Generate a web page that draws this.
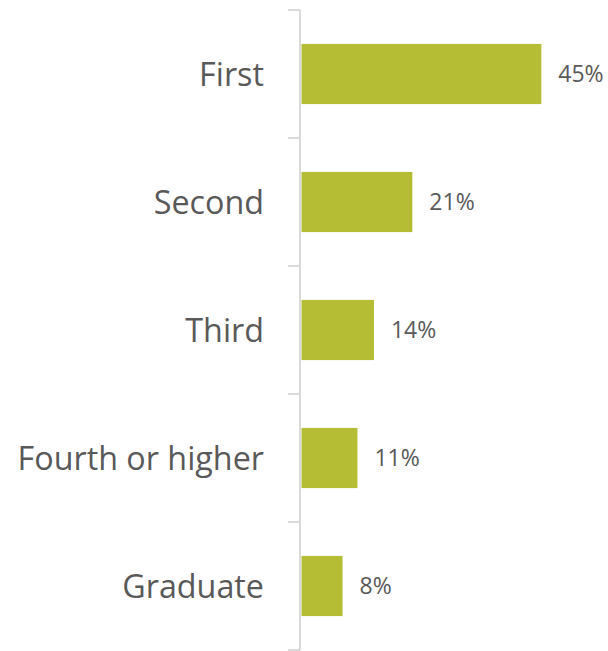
<!DOCTYPE html>
<html lang="en">
  <head>
    <meta charset="UTF-8" />
    <title>Year of study</title>
    <script src="https://d3js.org/d3.v7.min.js"></script>
    <style>
      body {
        margin: 0;
        background: #fff;
        font-family: "Open Sans", sans-serif;
      }
    </style>
  </head>
  <body>
    <div id="chart"></div>
    <script>
      const categories = ["First", "Second", "Third", "Fourth or higher", "Graduate"];
      const values = [45, 20.8, 13.6, 10.5, 7.7];
      const valueLabels = ["45%", "21%", "14%", "11%", "8%"];

      const width = 608;
      const height = 651;
      const margin = { top: 10, right: 0, bottom: 1, left: 300 };

      const svg = d3
        .select("#chart")
        .append("svg")
        .attr("width", width)
        .attr("height", height);

      const y = d3
        .scaleBand()
        .domain(categories)
        .range([margin.top, height - margin.bottom])
        .paddingInner(0.53)
        .paddingOuter(0.265);

      const x = d3
        .scaleLinear()
        .domain([0, 45])
        .range([margin.left + 1.5, 541.3]);

      // category axis, ticks sit on the band edges
      const axis = svg.append("g").attr("stroke", "#d9d9d9").attr("stroke-width", 2);
      axis
        .append("line")
        .attr("x1", margin.left)
        .attr("x2", margin.left)
        .attr("y1", margin.top)
        .attr("y2", height - margin.bottom);

      const step = y.step();
      const edges = d3.range(categories.length + 1).map((i) => margin.top + i * step);
      axis
        .selectAll("line.tick")
        .data(edges)
        .join("line")
        .attr("class", "tick")
        .attr("x1", margin.left - 12)
        .attr("x2", margin.left)
        .attr("y1", (d) => d)
        .attr("y2", (d) => d);

      svg
        .append("g")
        .selectAll("rect")
        .data(categories)
        .join("rect")
        .attr("x", x(0))
        .attr("y", (d) => y(d))
        .attr("width", (d, i) => x(values[i]) - x(0))
        .attr("height", y.bandwidth())
        .attr("fill", "#b4bd34");

      svg
        .append("g")
        .selectAll("text")
        .data(categories)
        .join("text")
        .attr("x", margin.left - 36)
        .attr("y", (d) => y(d) + y.bandwidth() / 2)
        .attr("dy", "0.36em")
        .attr("text-anchor", "end")
        .attr("fill", "#595959")
        .style("font-size", "32.3px")
        .text((d) => d);

      svg
        .append("g")
        .selectAll("text")
        .data(categories)
        .join("text")
        .attr("x", (d, i) => x(values[i]) + 17)
        .attr("y", (d) => y(d) + y.bandwidth() / 2)
        .attr("dy", "0.36em")
        .attr("fill", "#595959")
        .style("font-size", "23px")
        .text((d, i) => valueLabels[i]);
    </script>
  </body>
</html>
